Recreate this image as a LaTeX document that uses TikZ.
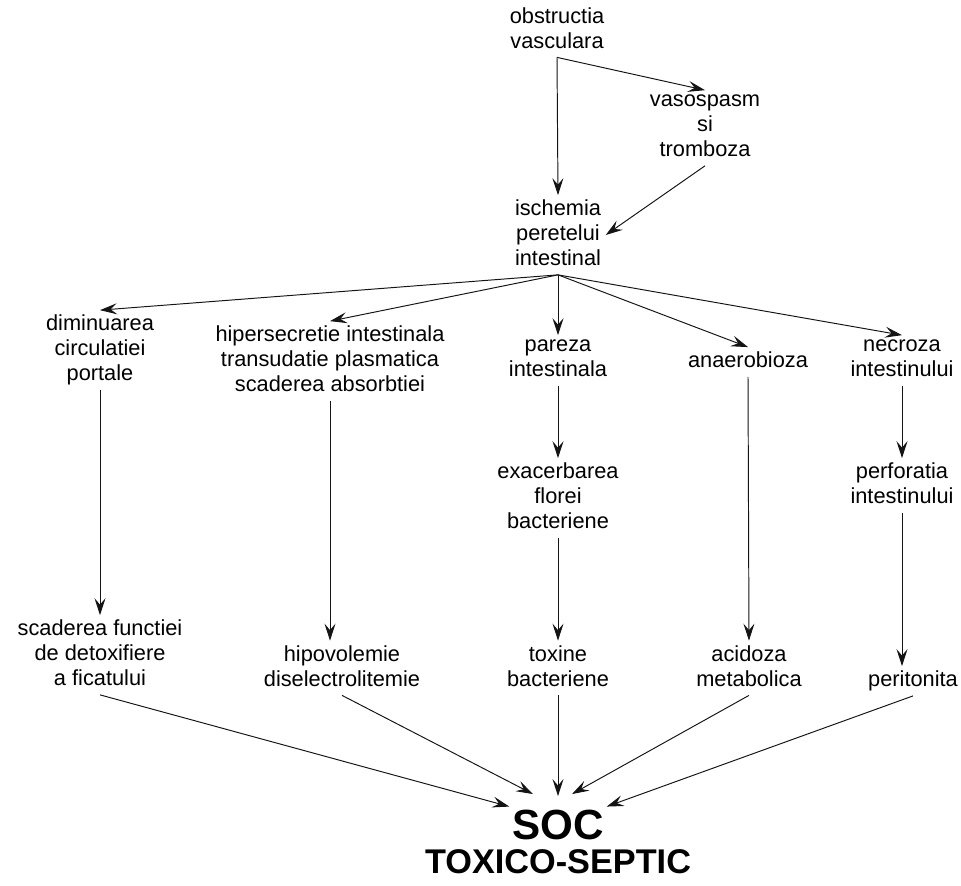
\documentclass[tikz,border=0pt]{standalone}
\usepackage{fontspec}
\setmainfont{Liberation Sans}
\usetikzlibrary{positioning, arrows.meta, calc}
\definecolor{edgeBase}{RGB}{ 20, 20, 20}
\tikzset{
    fact/.style={
        align=center, inner sep=2.5pt, text=black,
        font=\fontsize{12.4}{14.2}\selectfont,
        execute at begin node={\vphantom{Ag}},
        execute at end node={\vphantom{g}},
    },
    % Edge style: thin solid line, barbed tip
    lin/.style={
        -{Stealth[length=3.4mm, width=2.2mm, inset=1.3mm]},
        line width=0.55pt, draw=edgeBase,
    },
    soc/.style={
        inner sep=1.5pt, font=\fontsize{24}{28}\selectfont\bfseries,
    },
    socsub/.style={
        inner sep=0pt, font=\fontsize{19.5}{23}\selectfont\bfseries,
    },
}

\begin{document}
\begin{tikzpicture}
\useasboundingbox (0,0) rectangle (19.22,-17.72);

% ============================================================
%   Nodes
%   - cause at top, ISCHEMIA as the hub
%   - five consequences on the middle row, chains below
%   - SOC at the bottom
% ============================================================
\node[fact] (OBS)  at (11.14, -0.60) {obstructia\\vasculara};
\node[fact] (VASO) at (14.10, -2.56) {vasospasm\\si\\tromboza};
\node[fact] (ISC)  at (11.16, -4.70) {ischemia\\peretelui\\intestinal};

\node[fact] (DIM)  at ( 2.00, -7.00) {diminuarea\\circulatiei\\portale};
\node[fact] (HIP)  at ( 6.60, -7.22)
    {hipersecretie intestinala\\transudatie plasmatica\\scaderea absorbtiei};
\node[fact] (PAR)  at (11.16, -7.21) {pareza\\intestinala};
\node[fact] (ANA)  at (14.96, -7.24) {anaerobioza};
\node[fact] (NEC)  at (18.04, -7.21) {necroza\\intestinului};

\node[fact] (EXA)  at (11.16, -9.96) {exacerbarea\\florei\\bacteriene};
\node[fact] (PERF) at (18.04, -9.71) {perforatia\\intestinului};

\node[fact] (SCAD) at ( 2.00,-13.10)
    {scaderea functiei\\de detoxifiere\\a ficatului};
\node[fact] (HIPO) at ( 6.84,-13.36) {hipovolemie\\diselectrolitemie};
\node[fact] (TOX)  at (11.16,-13.36) {toxine\\bacteriene};
\node[fact] (ACID) at (14.98,-13.36) {acidoza\\metabolica};
\node[fact] (PERI) at (18.26,-13.62) {peritonita};

\node[soc, anchor=base]    (SOC) at (11.16,-16.78) {SOC};
\node[socsub, anchor=base] (TS)  at (11.16,-17.46) {TOXICO-SEPTIC};

% ============================================================
%   Edges
% ============================================================

% --- top: obstruction -> ischemia ---------------------------
\draw[lin] (OBS.south) -- (VASO.north);
\draw[lin] (OBS.south) -- (ISC.north);
\draw[lin] (VASO.south) -- (ISC.east);

% --- ischemia fans out ---------------------------------------
\draw[lin] (ISC.south) -- (DIM.north);
\draw[lin] (ISC.south) -- (HIP.north);
\draw[lin] (ISC.south) -- (PAR.north);
\draw[lin] (ISC.south) -- (ANA.north);
\draw[lin] (ISC.south) -- (NEC.north);

% --- vertical chains -----------------------------------------
\draw[lin] (DIM.south) -- (SCAD.north);
\draw[lin] (HIP.south) -- (HIP.south |- HIPO.north);
\draw[lin] (PAR.south) -- (EXA.north);
\draw[lin] (EXA.south) -- (TOX.north);
\draw[lin] (ANA.south) -- (ACID.north);
\draw[lin] (NEC.south) -- (PERF.north);
\draw[lin] (PERF.south) -- (PERF.south |- PERI.north);

% --- everything ends in SOC ----------------------------------
\draw[lin] (SCAD.south) -- (SOC.north west);
\draw[lin] (HIPO.south) -- ($(SOC.north)+(-0.50,0.25)$);
\draw[lin] (TOX.south)  -- ($(SOC.north)+( 0.00,0.21)$);
\draw[lin] (ACID.south) -- ($(SOC.north)+( 0.28,0.25)$);
\draw[lin] (PERI.south) -- (SOC.north east);

\end{tikzpicture}
\end{document}
